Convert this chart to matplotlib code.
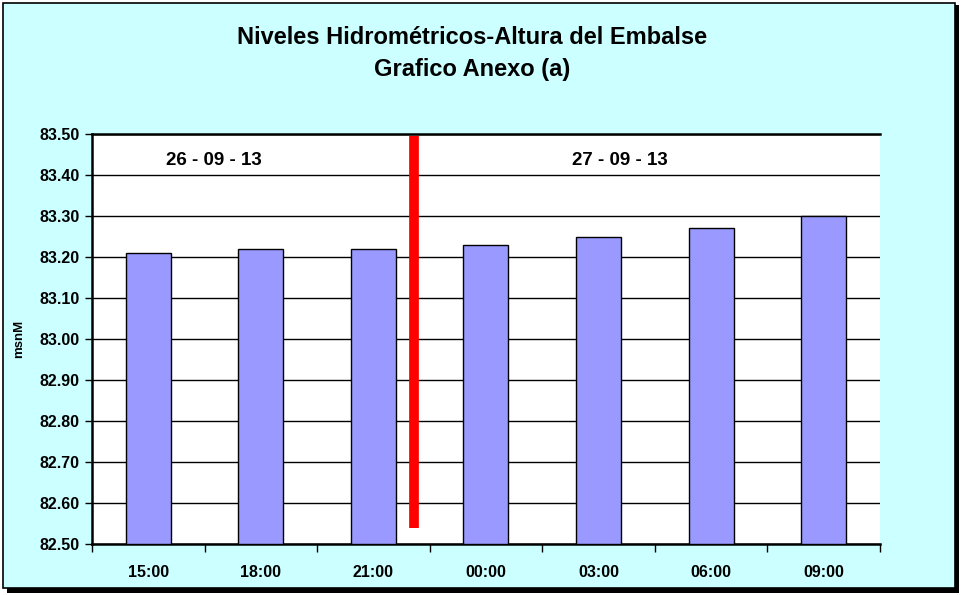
import matplotlib.pyplot as plt
from matplotlib.patches import Rectangle

horas = ['15:00', '18:00', '21:00', '00:00', '03:00', '06:00', '09:00']
niveles = [83.21, 83.22, 83.22, 83.23, 83.25, 83.27, 83.30]
fechas = ['26 - 09 - 13', '27 - 09 - 13']
fecha_x = [0.58, 4.19]
corte_x = 2.36
corte_y = [82.54, 83.495]

plt.rcParams['font.family'] = ['Liberation Sans', 'DejaVu Sans']
plt.rcParams['font.weight'] = 'bold'

fig = plt.figure(figsize=(9.64, 5.95), dpi=100)
fig.patch.set_facecolor('white')

# marco con sombra
fig.patches.append(Rectangle((0.007, 0.004), 0.988, 0.988, transform=fig.transFigure,
                             facecolor='black', edgecolor='none', zorder=-3))
fig.patches.append(Rectangle((0.003, 0.011), 0.988, 0.984, transform=fig.transFigure,
                             facecolor='#CCFFFF', edgecolor='black', linewidth=1.2, zorder=-2))

ax = fig.add_axes([0.0954, 0.0857, 0.8174, 0.689])
ax.set_facecolor('white')

x = range(len(horas))
ax.bar(x, [v - 82.5 for v in niveles], bottom=82.5, width=0.4,
       color='#9999FF', edgecolor='black', linewidth=1, zorder=3)

ax.set_xlim(-0.5, len(horas) - 0.5)
ax.set_ylim(82.5, 83.5)
yt = [82.5 + 0.1 * i for i in range(11)]
ax.set_yticks(yt)
ax.set_yticklabels([f'{v:.2f}' for v in yt], fontsize=11.5, fontweight='bold')
ax.yaxis.grid(True, color='black', linewidth=1, zorder=1)

ax.set_xticks([i - 0.5 for i in range(len(horas) + 1)])
ax.set_xticklabels([])
ax.set_xticks(list(x), minor=True)
ax.set_xticklabels(horas, minor=True, fontsize=11.5, fontweight='bold')
ax.tick_params(axis='x', which='minor', length=0, pad=15)
ax.tick_params(axis='x', which='major', length=6, width=1, direction='out')
ax.tick_params(axis='y', length=5, width=1, direction='out', pad=4)

for s in ['top', 'left', 'bottom']:
    ax.spines[s].set_linewidth(1.8)
ax.spines['right'].set_visible(False)

ax.set_ylabel('msnM', fontsize=9.5, fontweight='bold', labelpad=10)

ax.plot([corte_x, corte_x], corte_y, color='#FF0000', linewidth=7,
        solid_capstyle='butt', zorder=4)

for fx, ft in zip(fecha_x, fechas):
    ax.text(fx, 83.435, ft, ha='center', va='center', fontsize=13.5, fontweight='bold')

fig.text(0.49, 0.937, 'Niveles Hidrométricos-Altura del Embalse',
         ha='center', va='center', fontsize=17, fontweight='bold')
fig.text(0.49, 0.884, 'Grafico Anexo (a)',
         ha='center', va='center', fontsize=17, fontweight='bold')

plt.savefig('out.png', dpi=100)
